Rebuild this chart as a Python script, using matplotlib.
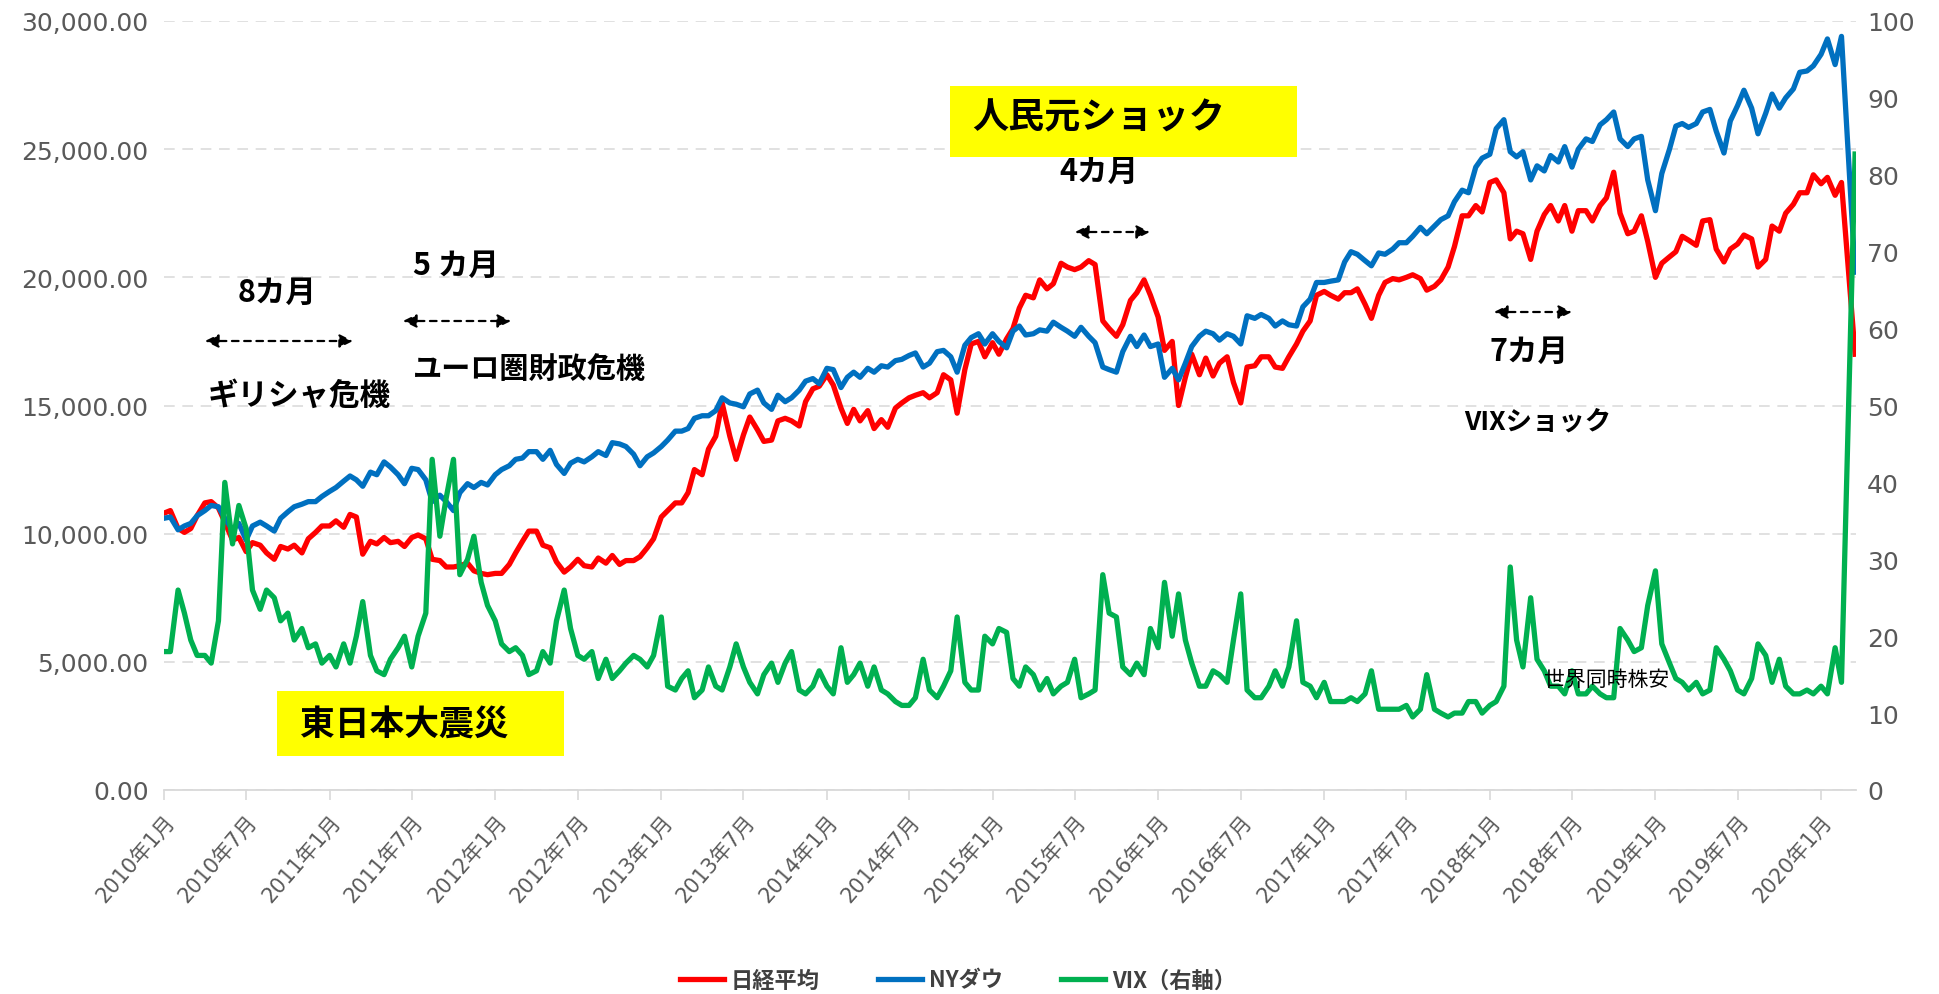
import matplotlib
matplotlib.use('Agg')
import matplotlib.pyplot as plt
import matplotlib.patches as patches
import pandas as pd
from matplotlib.ticker import FuncFormatter

plt.rcParams['font.family'] = ['Noto Sans CJK JP', 'DejaVu Sans']

# points on the 1st and 15th of each month, the last one is 2020-03-16
dates = list(pd.date_range('2010-01-01', '2020-02-15', freq='SMS')) + [pd.Timestamp('2020-03-16')]

nikkei_2010 = [10800, 10900, 10200, 10050, 10200, 10700, 11200, 11250, 11000, 10450, 9750, 9850,
               9300, 9650, 9550, 9250, 9000, 9500, 9400, 9550, 9250, 9800, 10050, 10300]
nikkei_2011 = [10300, 10500, 10250, 10750, 10650, 9200, 9700, 9600, 9850, 9650, 9700, 9500,
               9850, 9950, 9800, 9000, 8950, 8700, 8700, 8750, 8850, 8550, 8450, 8400]
nikkei_2012 = [8450, 8450, 8800, 9250, 9700, 10100, 10100, 9550, 9450, 8900, 8500, 8700,
               9000, 8750, 8700, 9050, 8850, 9150, 8800, 8950, 8950, 9100, 9450, 9800]
nikkei_2013 = [10650, 10900, 11200, 11200, 11600, 12500, 12300, 13300, 13800, 15100, 13800, 12900,
               13850, 14550, 14050, 13600, 13650, 14400, 14500, 14400, 14200, 15150, 15650, 15750]
nikkei_2014 = [16200, 15800, 14900, 14300, 14850, 14400, 14800, 14100, 14450, 14150, 14900, 15100,
               15300, 15400, 15500, 15300, 15500, 16200, 16000, 14700, 16400, 17400, 17500, 16900]
nikkei_2015 = [17450, 17000, 17600, 18000, 18800, 19300, 19200, 19900, 19550, 19750, 20550, 20400,
               20300, 20400, 20650, 20500, 18300, 18000, 17700, 18150, 19100, 19400, 19900, 19300]
nikkei_2016 = [18450, 17150, 17500, 15000, 16100, 17000, 16200, 16850, 16150, 16650, 16900, 15900,
               15100, 16500, 16550, 16900, 16900, 16500, 16450, 16900, 17400, 17900, 18300, 19300]
nikkei_2017 = [19450, 19300, 19150, 19400, 19400, 19550, 18950, 18400, 19300, 19800, 19950, 19900,
               20000, 20100, 19950, 19500, 19650, 19900, 20400, 21200, 22400, 22400, 22800, 22550]
nikkei_2018 = [23700, 23800, 23300, 21500, 21800, 21700, 20700, 21800, 22450, 22800, 22200, 22800,
               21800, 22600, 22600, 22200, 22800, 23100, 24100, 22500, 21700, 21800, 22400, 21400]
nikkei_2019 = [20000, 20550, 20800, 21000, 21600, 21450, 21250, 22200, 22250, 21100, 20600, 21100,
               21300, 21650, 21500, 20400, 20700, 22000, 21800, 22500, 22850, 23300, 23300, 24000]
nikkei_2020 = [23650, 23900, 23200, 23700, 17000]

dow_2010 = [10600, 10650, 10150, 10300, 10400, 10700, 10900, 11100, 11050, 10600, 10150, 10400,
            9750, 10300, 10450, 10300, 10100, 10600, 10850, 11050, 11150, 11250, 11250, 11450]
dow_2011 = [11650, 11800, 12050, 12250, 12100, 11850, 12400, 12300, 12800, 12600, 12300, 11950,
            12550, 12500, 12100, 11250, 11500, 11250, 10900, 11600, 11950, 11800, 12000, 11900]
dow_2012 = [12300, 12500, 12650, 12900, 12950, 13200, 13200, 12900, 13250, 12700, 12350, 12750,
            12900, 12800, 13000, 13200, 13050, 13550, 13500, 13400, 13100, 12650, 13000, 13150]
dow_2013 = [13400, 13650, 14000, 14000, 14100, 14500, 14600, 14600, 14800, 15300, 15100, 15050,
            14950, 15450, 15600, 15100, 14850, 15400, 15150, 15300, 15600, 15950, 16050, 15850]
dow_2014 = [16450, 16400, 15700, 16100, 16300, 16100, 16450, 16300, 16550, 16500, 16750, 16800,
            16950, 17050, 16500, 16650, 17100, 17150, 16900, 16300, 17350, 17650, 17800, 17400]
dow_2015 = [17800, 17500, 17250, 17900, 18100, 17750, 17800, 17950, 17900, 18250, 18050, 17900,
            17700, 18050, 17700, 17450, 16500, 16400, 16300, 17100, 17700, 17300, 17750, 17300]
dow_2016 = [17400, 16100, 16450, 16000, 16650, 17300, 17700, 17900, 17800, 17550, 17800, 17700,
            17400, 18500, 18400, 18550, 18400, 18100, 18300, 18150, 18100, 18850, 19150, 19800]
dow_2017 = [19800, 19850, 19900, 20600, 21000, 20900, 20650, 20450, 20950, 20900, 21100, 21350,
            21350, 21600, 21950, 21700, 22000, 22250, 22400, 22950, 23400, 23300, 24300, 24650]
dow_2018 = [24800, 25800, 26150, 24900, 24700, 24900, 23800, 24350, 24150, 24750, 24500, 25100,
            24300, 25000, 25400, 25300, 25950, 26150, 26450, 25400, 25100, 25400, 25500, 23800]
dow_2019 = [22600, 24050, 25000, 25900, 26000, 25850, 26000, 26450, 26550, 25700, 24850, 26100,
            26700, 27300, 26600, 25600, 26400, 27150, 26600, 27000, 27350, 28000, 28050, 28250]
dow_2020 = [28700, 29300, 28300, 29400, 20200]

vix_2010 = [18, 18, 26, 23, 19.5, 17.5, 17.5, 16.5, 22, 40, 32, 37,
            34, 26, 23.5, 26, 25, 22, 23, 19.5, 21, 18.5, 19, 16.5]
vix_2011 = [17.5, 16, 19, 16.5, 20, 24.5, 17.5, 15.5, 15, 17, 18.5, 20,
            16, 20, 23, 43, 33, 38, 43, 28, 30, 33, 27, 24]
vix_2012 = [22, 19, 18, 18.5, 17.5, 15, 15.5, 18, 16.5, 22, 26, 21,
            17.5, 17, 18, 14.5, 17, 14.5, 15.5, 16.5, 17.5, 17, 16, 17.5]
vix_2013 = [22.5, 13.5, 13, 14.5, 15.5, 12, 13, 16, 13.5, 13, 16, 19,
            16, 14, 12.5, 15, 16.5, 14, 16.5, 18, 13, 12.5, 13.5, 15.5]
vix_2014 = [13.5, 12.5, 18.5, 14, 15, 16.5, 13.5, 16, 13, 12.5, 11.5, 11,
            11, 12, 17, 13, 12, 13.5, 15.5, 22.5, 14, 13, 13, 20]
vix_2015 = [19, 21, 20.5, 14.5, 13.5, 16, 15, 13, 14.5, 12.5, 13.5, 14,
            17, 12, 12.5, 13, 28, 23, 22.5, 16, 15, 16.5, 15, 21]
vix_2016 = [18.5, 27, 20, 25.5, 19.5, 16.5, 13.5, 13.5, 15.5, 15, 14, 19.5,
            25.5, 13, 12, 12, 13.5, 15.5, 13.5, 16, 22, 14, 13.5, 12]
vix_2017 = [14, 11.5, 11.5, 11.5, 12, 11.5, 12.5, 15.5, 10.5, 10.5, 10.5, 10.5,
            11, 9.5, 10.5, 15, 10.5, 10, 9.5, 10, 10, 11.5, 11.5, 10]
vix_2018 = [11, 11.5, 13.5, 29, 19.5, 16, 25, 17, 15.5, 13.5, 13.5, 12.5,
            15.5, 12.5, 12.5, 13.5, 12.5, 12, 12, 21, 19.5, 18, 18.5, 24]
vix_2019 = [28.5, 19, 16.5, 14.5, 14, 13, 14, 12.5, 13, 18.5, 17, 15.5,
            13, 12.5, 14.5, 19, 17.5, 14, 17, 13.5, 12.5, 12.5, 13, 12.5]
vix_2020 = [13.5, 12.5, 18.5, 14, 82.7]

nikkei = (nikkei_2010 + nikkei_2011 + nikkei_2012 + nikkei_2013 + nikkei_2014 + nikkei_2015
          + nikkei_2016 + nikkei_2017 + nikkei_2018 + nikkei_2019 + nikkei_2020)
dow = (dow_2010 + dow_2011 + dow_2012 + dow_2013 + dow_2014 + dow_2015
       + dow_2016 + dow_2017 + dow_2018 + dow_2019 + dow_2020)
vix = (vix_2010 + vix_2011 + vix_2012 + vix_2013 + vix_2014 + vix_2015
       + vix_2016 + vix_2017 + vix_2018 + vix_2019 + vix_2020)

tick_dates = pd.date_range('2010-01-01', '2020-01-01', freq='6MS')
tick_labels = ['2010年1月', '2010年7月', '2011年1月', '2011年7月', '2012年1月', '2012年7月',
               '2013年1月', '2013年7月', '2014年1月', '2014年7月', '2015年1月', '2015年7月',
               '2016年1月', '2016年7月', '2017年1月', '2017年7月', '2018年1月', '2018年7月',
               '2019年1月', '2019年7月', '2020年1月']

W, H = 1939, 995
fig = plt.figure(figsize=(W / 100, H / 100), dpi=100)
ax = fig.add_axes([164 / W, 1 - 791 / H, (1856 - 164) / W, (791 - 22) / H])
ax2 = ax.twinx()

l1, = ax.plot(dates, nikkei, color='#FF0000', lw=3.8, label='日経平均')
l2, = ax.plot(dates, dow, color='#0070C0', lw=3.8, label='NYダウ')
l3, = ax2.plot(dates, vix, color='#00B050', lw=3.8, label='VIX（右軸）')

ax.set_xlim(pd.Timestamp('2010-01-01'), pd.Timestamp('2020-03-18'))
ax.set_ylim(0, 30000)
ax.set_yticks(range(0, 30001, 5000))
ax.yaxis.set_major_formatter(FuncFormatter(lambda v, p: '{:,.2f}'.format(v)))
ax2.set_ylim(0, 100)
ax2.set_yticks(range(0, 101, 10))

ax.grid(axis='y', color='#D9D9D9', linestyle=(0, (7, 5)), lw=1.1)
ax.set_axisbelow(True)
for s in ['top', 'left', 'right']:
    ax.spines[s].set_visible(False)
    ax2.spines[s].set_visible(False)
ax2.spines['bottom'].set_visible(False)
ax.spines['bottom'].set_color('#D9D9D9')
ax.spines['bottom'].set_linewidth(1.3)

ax.set_xticks(tick_dates)
ax.set_xticklabels(tick_labels, rotation=49, ha='right', rotation_mode='anchor')
ax.tick_params(axis='x', length=7, color='#D9D9D9', width=1.2, labelsize=15,
               labelcolor='#595959', pad=8)
for lab in ax.get_xticklabels():
    lab.set_family(['DejaVu Sans', 'Noto Sans CJK JP'])
ax.tick_params(axis='y', length=0, labelsize=18, labelcolor='#595959', pad=11)
ax2.tick_params(axis='y', length=0, labelsize=18, labelcolor='#595959', pad=8)
for lab in ax.get_yticklabels() + ax2.get_yticklabels():
    lab.set_family('DejaVu Sans')


def fx(px):
    return px / W


def fy(py):
    return 1 - py / H


# yellow label boxes
for x0, y0, x1, y1 in [(950, 87, 1297, 158), (277, 692, 564, 757)]:
    fig.add_artist(patches.Rectangle((fx(x0), fy(y1)), fx(x1 - x0), (y1 - y0) / H,
                                     transform=fig.transFigure, facecolor='#FFFF00',
                                     edgecolor='none', zorder=5))

fig.text(fx(972), fy(118), '人民元ショック', fontsize=26, fontweight='bold', va='center', zorder=6)
fig.text(fx(300), fy(724), '東日本大震災', fontsize=25, fontweight='bold', va='center', zorder=6)

fig.text(fx(277), fy(293), '8カ月', fontsize=22, fontweight='bold', ha='center', va='center')
fig.text(fx(299), fy(396), 'ギリシャ危機', fontsize=22, fontweight='bold', ha='center', va='center')
fig.text(fx(456), fy(266), '5 カ月', fontsize=22, fontweight='bold', ha='center', va='center')
fig.text(fx(529), fy(369), 'ユーロ圏財政危機', fontsize=21, fontweight='bold', ha='center', va='center')
fig.text(fx(1099), fy(172), '4カ月', fontsize=22, fontweight='bold', ha='center', va='center')
fig.text(fx(1529), fy(352), '7カ月', fontsize=22, fontweight='bold', ha='center', va='center')
fig.text(fx(1538), fy(422), 'VIXショック', fontsize=19, fontweight='bold', ha='center', va='center')
fig.text(fx(1607), fy(680), '世界同時株安', fontsize=15, ha='center', va='center', zorder=6)

for x0, x1, y in [(205, 353, 342), (403, 511, 322), (1075, 1150, 233), (1494, 1572, 313)]:
    ax.annotate('', xy=(fx(x1), fy(y)), xytext=(fx(x0), fy(y)), xycoords='figure fraction',
                textcoords='figure fraction',
                arrowprops=dict(arrowstyle='<|-|>', color='black', lw=1.6,
                                linestyle=(0, (3, 2.5)), mutation_scale=20,
                                shrinkA=0, shrinkB=0))

fig.legend(handles=[l1, l2, l3], loc='center', bbox_to_anchor=(fx(958), fy(981)), ncol=3,
           frameon=False, handlelength=2.0, handletextpad=0.3,
           columnspacing=2.6, labelcolor='#404040', prop={'weight': 'bold', 'size': 16})

fig.savefig('out.png', dpi=100, facecolor='white')
